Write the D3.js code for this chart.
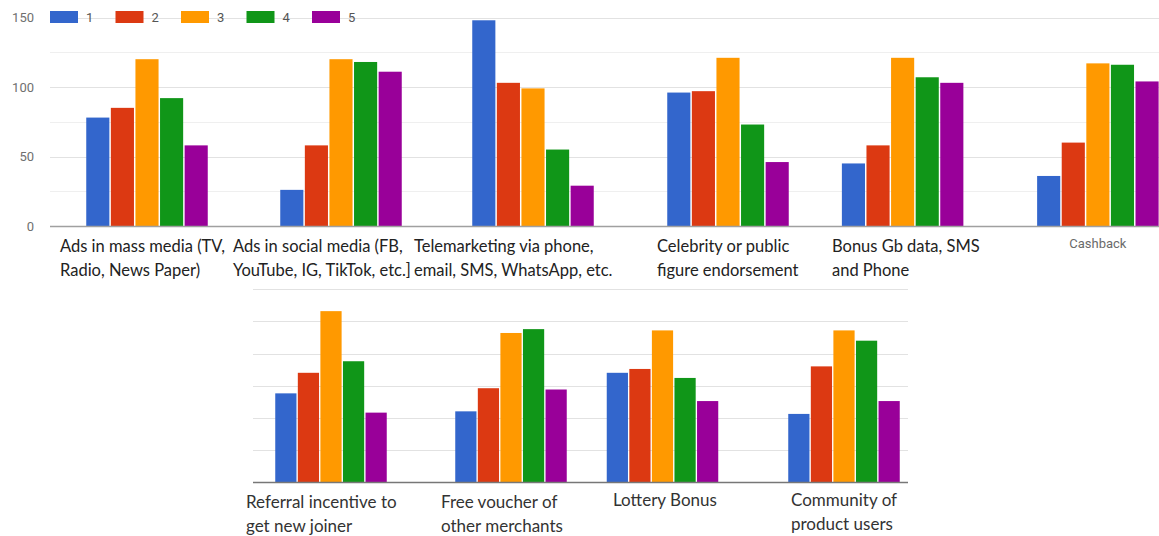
<!DOCTYPE html>
<html>
<head>
<meta charset="utf-8">
<script src="https://cdn.jsdelivr.net/npm/d3@7/dist/d3.min.js"></script>
<style>
  html, body { margin: 0; padding: 0; background: #fff; }
  svg { display: block; }
</style>
</head>
<body>
<svg id="chart" width="1159" height="536"></svg>
<script>
// Survey responses (rating 1–5) for each promotion channel
const categories = [
  "Ads in mass media (TV,\nRadio, News Paper)",
  "Ads in social media (FB,\nYouTube, IG, TikTok, etc.]",
  "Telemarketing via phone,\nemail, SMS, WhatsApp, etc.",
  "Celebrity or public\nfigure endorsement",
  "Bonus Gb data, SMS\nand Phone",
  "Cashback",
  "Referral incentive to\nget new joiner",
  "Free voucher of\nother merchants",
  "Lottery Bonus",
  "Community of\nproduct users"
];
const seriesNames = ["1", "2", "3", "4", "5"];
const rating1 = [78, 26, 148, 96, 45, 36, 69, 55, 85, 53];
const rating2 = [85, 58, 103, 97, 58, 60, 85, 73, 88, 90];
const rating3 = [120, 120, 99, 121, 121, 117, 133, 116, 118, 118];
const rating4 = [92, 118, 55, 73, 107, 116, 94, 119, 81, 110];
const rating5 = [58, 111, 29, 46, 103, 104, 54, 72, 63, 63];
const yTicks = [0, 50, 100, 150];
const colors = ["#3366cc", "#dc3912", "#ff9900", "#109618", "#990099"];

const seriesValues = [rating1, rating2, rating3, rating4, rating5];
const rows = categories.map((c, i) => ({
  cat: c,
  values: seriesNames.map((s, k) => ({ key: s, value: seriesValues[k][i] }))
}));

const svg = d3.select("#chart");
const color = d3.scaleOrdinal().domain(seriesNames).range(colors);

// Two rows of panels, each panel holds two categories on its own band scale
const yUpper = d3.scaleLinear().domain([0, 150]).range([226, 17.5]);
const yLower = d3.scaleLinear().domain([0, 150]).range([482, 289.3]);

const panels = [
  { cats: [0, 1], range: [50, 438], grid: [50, 437], y: yUpper, bw: 121.5, minor: true, base: "#a0a0a0" },
  { cats: [2, 3], range: [435.5, 825.5], grid: [437, 817], y: yUpper, bw: 121.5, minor: true, base: "#a0a0a0" },
  { cats: [4, 5], range: [805, 1195.5], grid: [817, 1159], y: yUpper, bw: 121.5, minor: true, base: "#a0a0a0" },
  { cats: [6, 7], range: [241, 601], grid: [253, 593], y: yLower, bw: 111.5, minor: false, base: "#777" },
  { cats: [8, 9], range: [571.75, 934.75], grid: [593, 908], y: yLower, bw: 111.5, minor: false, base: "#777" }
];

panels.forEach(p => {
  const g = svg.append("g");
  const y = p.y;
  // gridlines every 25
  const gridVals = d3.range(25, 151, 25);
  g.selectAll("line.grid").data(gridVals).enter().append("line")
    .attr("x1", p.grid[0]).attr("x2", p.grid[1])
    .attr("y1", d => Math.round(y(d)) + 0.5).attr("y2", d => Math.round(y(d)) + 0.5)
    .attr("stroke", d => (p.minor && d % 50 !== 0) ? "#efefef" : "#e2e2e2")
    .attr("stroke-width", 1.2);

  const span = p.range[1] - p.range[0];
  const step = span / 2;
  const pad = 1 - p.bw / step;
  const x0 = d3.scaleBand().domain(p.cats.map(i => categories[i]))
    .range(p.range).paddingInner(pad).paddingOuter(pad / 2);
  const x1 = d3.scaleBand().domain(seriesNames).range([0, x0.bandwidth()]).paddingInner(0.06);

  const grp = g.selectAll("g.cat").data(p.cats.map(i => rows[i])).enter().append("g")
    .attr("transform", d => `translate(${x0(d.cat)},0)`);
  grp.selectAll("rect").data(d => d.values).enter().append("rect")
    .attr("x", d => x1(d.key))
    .attr("width", x1.bandwidth())
    .attr("y", d => y(d.value))
    .attr("height", d => y(0) - y(d.value))
    .attr("fill", d => color(d.key));

  g.append("line")
    .attr("x1", p.grid[0]).attr("x2", p.grid[1])
    .attr("y1", y(0) + 0.5).attr("y2", y(0) + 0.5)
    .attr("stroke", p.base).attr("stroke-width", 1.5);

  p.x0 = x0;
});

// y-axis labels of the upper chart
const yAxis = d3.axisLeft(yUpper).tickValues(yTicks).tickSize(0).tickPadding(0);
const ya = svg.append("g").attr("transform", "translate(34,0)").call(yAxis);
ya.select(".domain").remove();
ya.selectAll("text").attr("fill", "#6f6f6f").style("font", "13px Roboto, sans-serif");

// Legend
const legend = svg.append("g").attr("transform", "translate(50,11)");
const li = legend.selectAll("g").data(seriesNames).enter().append("g")
  .attr("transform", (d, i) => `translate(${i * 65.5},0)`);
li.append("rect").attr("width", 28).attr("height", 12).attr("fill", d => color(d));
li.append("text").attr("x", 36).attr("y", 11).text(d => d)
  .attr("fill", "#555").style("font", "13px Roboto, sans-serif");

// Category labels
const upperFont = "16.5px Lato, sans-serif";
const lowerFont = "17px Lato, sans-serif";
const labelLayout = [
  { x: 60, y: 252, font: upperFont, fill: "#222", anchor: "start" },
  { x: 233, y: 252, font: upperFont, fill: "#222", anchor: "start" },
  { x: 414, y: 252, font: upperFont, fill: "#222", anchor: "start" },
  { x: 657, y: 252, font: upperFont, fill: "#222", anchor: "start" },
  { x: 832, y: 252, font: upperFont, fill: "#222", anchor: "start" },
  { x: null, y: 248, font: "13px Roboto, sans-serif", fill: "#6a6a6a", anchor: "middle" },
  { x: 246, y: 508, font: lowerFont, fill: "#333", anchor: "start" },
  { x: 441, y: 508, font: lowerFont, fill: "#333", anchor: "start" },
  { x: 613, y: 506, font: lowerFont, fill: "#333", anchor: "start" },
  { x: 791, y: 506, font: lowerFont, fill: "#333", anchor: "start" }
];

categories.forEach((c, i) => {
  const L = labelLayout[i];
  let x = L.x;
  if (x === null) {
    const p = panels.find(pp => pp.cats.includes(i));
    x = p.x0(c) + p.x0.bandwidth() / 2;
  }
  const t = svg.append("text").attr("x", x).attr("y", L.y)
    .attr("text-anchor", L.anchor).attr("fill", L.fill).style("font", L.font);
  c.split("\n").forEach((line, k) => {
    t.append("tspan").attr("x", x).attr("dy", k === 0 ? 0 : 23.5).text(line);
  });
});
</script>
</body>
</html>
